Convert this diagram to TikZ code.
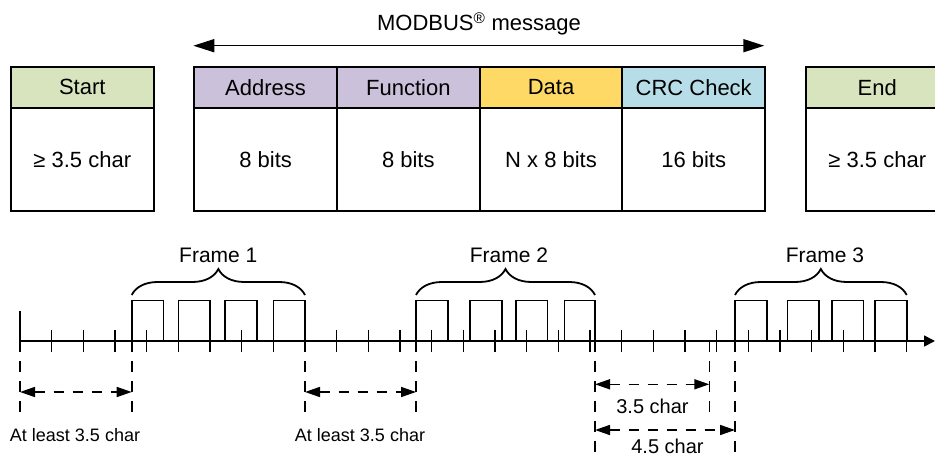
\documentclass[tikz,border=0pt]{standalone}
\usepackage{fontspec}
\setmainfont{Liberation Sans}
\usetikzlibrary{arrows.meta,decorations.pathreplacing}
\definecolor{cgreen}{HTML}{D7E4BD}
\definecolor{cpurple}{HTML}{CCC1DA}
\definecolor{cyellow}{HTML}{FFD966}
\definecolor{cblue}{HTML}{B7DEE8}
\begin{document}
\begin{tikzpicture}[x=1pt,y=-1pt,
  cell/.style={draw=black, line width=1.9pt, minimum width=142.7pt, inner sep=0pt,
               font=\fontsize{22}{26}\selectfont, anchor=north west},
  hdr/.style={cell, minimum height=41pt},
  bodycell/.style={cell, minimum height=103.3pt, fill=white},
  tl/.style={line width=1.6pt},
  dline/.style={line width=1.6pt, dash pattern=on 11pt off 9pt},
  darrow/.style={line width=1.6pt, dash pattern=on 10pt off 9pt,
                 {Triangle[length=15pt,width=10pt]}-{Triangle[length=15pt,width=10pt]}},
  lbl/.style={font=\fontsize{20}{24}\selectfont, inner sep=0pt},
  lbls/.style={font=\fontsize{18}{22}\selectfont, inner sep=0pt},
  brc/.style={line width=1.8pt, decorate, decoration={brace, amplitude=26pt}},
  ]
\useasboundingbox (0,0) rectangle (935,457);
\clip (0,0) rectangle (935,457);

% message arrow
\coordinate (ml) at (193.3,45.7);
\coordinate (mr) at (764.3,45.7);
\draw[line width=1.6pt, {Triangle[length=21pt,width=13pt]}-{Triangle[length=21pt,width=13pt]}] (ml) -- (mr);
\node[font=\fontsize{22}{26}\selectfont, inner sep=0pt] (msg) at (479,24) {MODBUS\textsuperscript{\textregistered} message};

% boxes
\node[hdr, fill=cgreen] (starth) at (10,65.7) {Start};
\node[bodycell] (startb) at (10,106.7) {≥ 3.5 char};
\node[hdr, fill=cpurple] (addrh) at (193.3,65.7) {Address};
\node[bodycell] (addrb) at (193.3,106.7) {8 bits};
\node[hdr, fill=cpurple] (funch) at (336,65.7) {Function};
\node[bodycell] (funcb) at (336,106.7) {8 bits};
\node[hdr, fill=cyellow] (datah) at (478.7,65.7) {Data};
\node[bodycell] (datab) at (478.7,106.7) {N x 8 bits};
\node[hdr, fill=cblue] (crch) at (621.4,65.7) {CRC Check};
\node[bodycell] (crcb) at (621.4,106.7) {16 bits};
\node[hdr, fill=cgreen] (endh) at (805,65.7) {End};
\node[bodycell] (endb) at (805,106.7) {≥ 3.5 char};

% timeline
\draw[tl, -{Triangle[length=11pt,width=11pt]}] (20,341) -- (935,341);
\draw[tl] (20,310.7) -- (20,341);
\foreach \k in {1,...,28} \draw[tl] ({20+31.667*\k},330) -- ({20+31.667*\k},352);
\foreach \a/\b in {131.7/163.3, 178.3/210, 225/256.7, 273.3/305,
                   416/447.7, 470/501.7, 516/547.3, 564.3/595,
                   735/766.7, 787.3/819, 831.7/863.3, 875/906.7}
  \draw[tl] (\a,341) -- (\a,300.5) -- (\b,300.5) -- (\b,341);

% braces
\draw[brc] (131.7,295) -- (305,295);
\draw[brc] (416,295) -- (595,295);
\draw[brc] (735,295) -- (906.7,295);
\node[lbl, font=\fontsize{21}{25}\selectfont] (f1) at (218.3,255) {Frame 1};
\node[lbl, font=\fontsize{21}{25}\selectfont] (f2) at (509,255) {Frame 2};
\node[lbl, font=\fontsize{21}{25}\selectfont] (f3) at (825,255) {Frame 3};

% dashed verticals
\coordinate (v1t) at (20,341);    \coordinate (v1b) at (20,413);
\coordinate (v2t) at (131.7,341); \coordinate (v2b) at (131.7,413);
\coordinate (v3t) at (305,341);   \coordinate (v3b) at (305,413);
\coordinate (v4t) at (416,341);   \coordinate (v4b) at (416,413);
\coordinate (v5t) at (595,341);   \coordinate (v5b) at (595,460);
\coordinate (v6t) at (709.3,341); \coordinate (v6b) at (709.3,415);
\coordinate (v7t) at (735,341);   \coordinate (v7b) at (735,460);
\foreach \v in {1,...,7} \draw[dline] (v\v t) -- (v\v b);

% dashed arrows
\draw[darrow] (v1t |- 0,392) -- (v2t |- 0,392);
\draw[darrow] (v3t |- 0,392) -- (v4t |- 0,392);
\draw[darrow] (v5t |- 0,384.3) -- (v6t |- 0,384.3);
\draw[darrow] (v5t |- 0,430) -- (v7t |- 0,430);

% labels
\node[lbls] (al1) at (75,435) {At least 3.5 char};
\node[lbls] (al2) at (360,435) {At least 3.5 char};
\node[lbl] (c35) at (652.5,406.7) {3.5 char};
\node[lbl] (c45) at (667.5,446) {4.5 char};
\end{tikzpicture}
\end{document}
